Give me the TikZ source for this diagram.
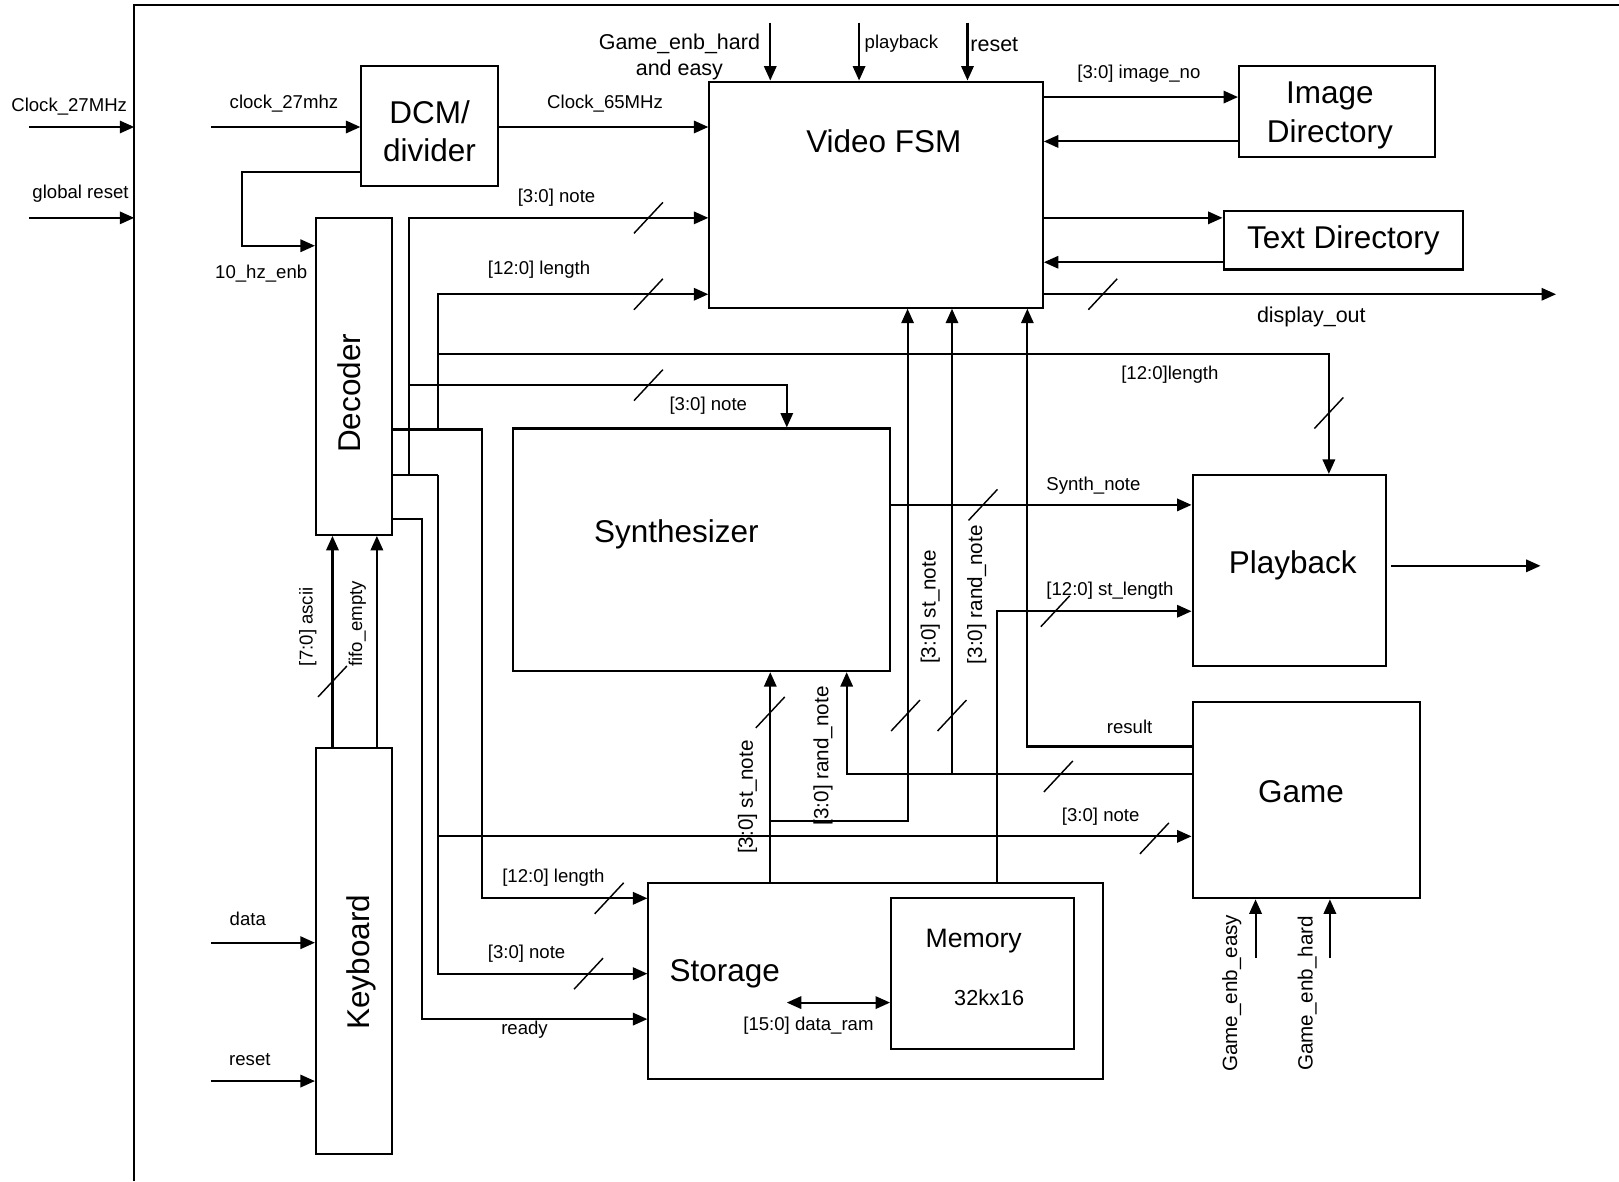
\documentclass[tikz,border=0pt]{standalone}
\usepackage{fontspec}
\setmainfont{Liberation Sans}
\usetikzlibrary{arrows.meta}
\begin{document}
\begin{tikzpicture}[x=0.5pt,y=-0.5pt,
  wire/.style={line width=1pt},
  arr/.style={wire,-{Triangle[length=7pt,width=6pt]}},
  darr/.style={wire,{Triangle[length=7pt,width=6pt]}-{Triangle[length=7pt,width=6pt]}},
  box/.style={draw,line width=1pt,inner sep=0pt},
  lbl/.style={inner sep=0pt,font=\fontsize{9}{10}\selectfont},
  lblb/.style={inner sep=0pt,align=center,font=\fontsize{10.4}{12.5}\selectfont},
  rlbl/.style={inner sep=0pt,rotate=90,font=\fontsize{10}{12}\selectfont},
  rlbls/.style={inner sep=0pt,rotate=90,font=\fontsize{9}{10}\selectfont},
  big/.style={inner sep=0pt,align=center,font=\fontsize{15.25}{18.75}\selectfont},
  slashmk/.pic={\draw[line width=0.7pt] (-14,15) -- (14,-15);}
]
\path[use as bounding box] (0,0) rectangle (1568,1144);
\draw[wire] (130,1144) -- (130,5) -- (1568,5);

% blocks
\node[box,minimum width=66pt,minimum height=58pt] (dcm) at (416,122) {};
\node[big] (dcmt) at (416,127) {DCM/\\divider};
\node[box,minimum width=37pt,minimum height=153.5pt] (dec) at (343,364.5) {};
\node[big,rotate=90] (dect) at (338,381) {Decoder};
\node[box,minimum width=161.5pt,minimum height=109.5pt] (vfsm) at (848.5,188.5) {};
\node[big] (vfsmt) at (856,137) {Video FSM};
\node[box,minimum width=95pt,minimum height=44pt] (img) at (1295,108) {};
\node[big] (imgt) at (1288,112) {Image\\Directory};
\node[box,minimum width=116pt,minimum height=28.5pt] (txt) at (1301,232.5) {};
\node[big] (txtt) at (1301,233) {Text Directory};
\node[box,minimum width=182.5pt,minimum height=117.5pt] (syn) at (679.5,532.5) {};
\node[big] (synt) at (655,518) {Synthesizer};
\node[box,minimum width=93.5pt,minimum height=92.5pt] (pb) at (1248.5,552.5) {};
\node[big] (pbt) at (1252,548) {Playback};
\node[box,minimum width=110pt,minimum height=95pt] (game) at (1265,775) {};
\node[big] (gamet) at (1260,767) {Game};
\node[box,minimum width=220pt,minimum height=95pt] (sto) at (848,950) {};
\node[big] (stot) at (702,943) {Storage};
\node[box,minimum width=88.5pt,minimum height=73pt] (mem) at (951.5,943) {};
\node[inner sep=0pt,font=\fontsize{12.9}{15}\selectfont] (memt) at (943,911) {Memory};
\node[inner sep=0pt,font=\fontsize{10.5}{12}\selectfont] (memsz) at (958,966) {32kx16};
\node[box,minimum width=37pt,minimum height=197pt] (kb) at (343,921) {};
\node[big,rotate=90] (kbt) at (350,932) {Keyboard};

% free ends
\coordinate (clkin) at (28,123);
\coordinate (clkf) at (130,123);
\coordinate (rstin) at (28,211);
\coordinate (rstf) at (130,211);
\coordinate (clkin2) at (204,123);
\coordinate (gin) at (746,22);
\coordinate (pin) at (832,22);
\coordinate (rin) at (937,22);
\coordinate (dout) at (1507,285);
\coordinate (pbstart) at (1347,548);
\coordinate (pbout) at (1492,548);
\coordinate (datain) at (204,913);
\coordinate (kbrst) at (204,1047);
\coordinate (gein) at (1216,928);
\coordinate (ghin) at (1288,928);

% inputs
\draw[arr] (clkin) -- (clkf);
\draw[arr] (rstin) -- (rstf);
\draw[arr] (clkin2) -- (dcm.west |- 0,123);
\draw[arr] (dcm.east |- 0,123) -- (vfsm.west |- 0,123);
\draw[arr] (dcm.west |- 0,167) -- (234,167) -- (234,238) -- (dec.west |- 0,238);
\draw[arr] (gin) -- (vfsm.north -| 746,0);
\draw[arr] (pin) -- (vfsm.north -| 832,0);
\draw[arr] (rin) -- (vfsm.north -| 937,0);

% video side
\draw[arr] (vfsm.east |- 0,94) -- (img.west |- 0,94);
\draw[arr] (img.west |- 0,137) -- (vfsm.east |- 0,137);
\draw[arr] (vfsm.east |- 0,211) -- (txt.west |- 0,211);
\draw[arr] (txt.west |- 0,254) -- (vfsm.east |- 0,254);
\draw[arr] (vfsm.east |- 0,285) -- (dout);

% decoder note
\draw[arr] (dec.east |- 0,460) -- (396,460) -- (396,211) -- (vfsm.west |- 0,211);
\draw[wire] (396,460) -- (424,460);
\draw[arr] (396,373) -- (762,373) -- (syn.north -| 762,0);
\draw[arr] (424,460) -- (424,943) -- (sto.west |- 0,943);
\draw[arr] (424,810) -- (game.west |- 0,810);
% decoder length
\draw[arr] (dec.east |- 0,416) -- (424,416) -- (424,285) -- (vfsm.west |- 0,285);
\draw[arr] (424,416) -- (467,416) -- (467,870) -- (sto.west |- 0,870);
\draw[arr] (424,343) -- (1287,343) -- (pb.north -| 1287,0);
% ready
\draw[arr] (dec.east |- 0,503) -- (409,503) -- (409,987) -- (sto.west |- 0,987);

% keyboard
\draw[arr] (kb.north -| 322,0) -- (dec.south -| 322,0);
\draw[arr] (kb.north -| 365,0) -- (dec.south -| 365,0);
\draw[arr] (datain) -- (kb.west |- 0,913);
\draw[arr] (kbrst) -- (kb.west |- 0,1047);

% synth / playback
\draw[arr] (syn.east |- 0,489) -- (pb.west |- 0,489);
\draw[arr] (pbstart) -- (pbout);

% storage
\draw[arr] (sto.north -| 746,0) -- (syn.south -| 746,0);
\draw[arr] (746,795) -- (879,795) -- (vfsm.south -| 879,0);
\draw[arr] (sto.north -| 966,0) -- (966,592) -- (pb.west |- 0,592);
\draw[darr] (762,971) -- (mem.west |- 0,971);

% game
\draw[arr] (game.west |- 0,750) -- (820,750) -- (syn.south -| 820,0);
\draw[arr] (922,750) -- (vfsm.south -| 922,0);
\draw[arr] (game.west |- 0,723) -- (995,723) -- (vfsm.south -| 995,0);
\draw[arr] (gein) -- (game.south -| 1216,0);
\draw[arr] (ghin) -- (game.south -| 1288,0);

% bus slashes
\pic at (628,211) {slashmk};
\pic at (628,285) {slashmk};
\pic at (628,373) {slashmk};
\pic at (1068,285) {slashmk};
\pic at (1287,400) {slashmk};
\pic at (952,489) {slashmk};
\pic at (1022,592) {slashmk};
\pic at (1025,752) {slashmk};
\pic at (1118,812) {slashmk};
\pic at (746,690) {slashmk};
\pic at (877,693) {slashmk};
\pic at (922,693) {slashmk};
\pic at (590,870) {slashmk};
\pic at (570,943) {slashmk};
\pic at (322,660) {slashmk};

% labels
\node[lbl] (l1) at (67,103) {Clock\_27MHz};
\node[lbl] (l2) at (78,188) {global reset};
\node[lbl] (l3) at (275,100) {clock\_27mhz};
\node[lbl] (l4) at (586,100) {Clock\_65MHz};
\node[lbl] (l5) at (253,265) {10\_hz\_enb};
\node[lbl] (l6) at (539,191) {[3:0] note};
\node[lbl] (l7) at (522,261) {[12:0] length};
\node[lblb] (l8) at (658,55) {Game\_enb\_hard\\and easy};
\node[lbl] (l9) at (873,42) {playback};
\node[lblb] (l10) at (963,43) {reset};
\node[lbl] (l11) at (1103,71) {[3:0] image\_no};
\node[lblb] (l12) at (1270,307) {display\_out};
\node[lbl] (l13) at (1133,363) {[12:0]length};
\node[lbl] (l14) at (686,393) {[3:0] note};
\node[lbl] (l15) at (1059,470) {Synth\_note};
\node[lbl] (l16) at (1075,572) {[12:0] st\_length};
\node[lbl] (l17) at (1094,704) {result};
\node[lbl] (l18) at (1066,791) {[3:0] note};
\node[lbl] (l19) at (536,850) {[12:0] length};
\node[lbl] (l20) at (510,924) {[3:0] note};
\node[lbl] (l21) at (508,997) {ready};
\node[lbl] (l22) at (783,993) {[15:0] data\_ram};
\node[lbl] (l23) at (240,890) {data};
\node[lbl] (l24) at (242,1026) {reset};
\node[rlbls] (r1) at (298,607) {[7:0] ascii};
\node[rlbls] (r2) at (346,604) {fifo\_empty};
\node[rlbl] (r3) at (901,588) {[3:0] st\_note};
\node[rlbl] (r4) at (946,576) {[3:0] rand\_note};
\node[rlbl] (r5) at (724,772) {[3:0] st\_note};
\node[rlbl] (r6) at (797,732) {[3:0] rand\_note};
\node[rlbl] (r7) at (1193,962) {Game\_enb\_easy};
\node[rlbl] (r8) at (1266,962) {Game\_enb\_hard};
\end{tikzpicture}
\end{document}
